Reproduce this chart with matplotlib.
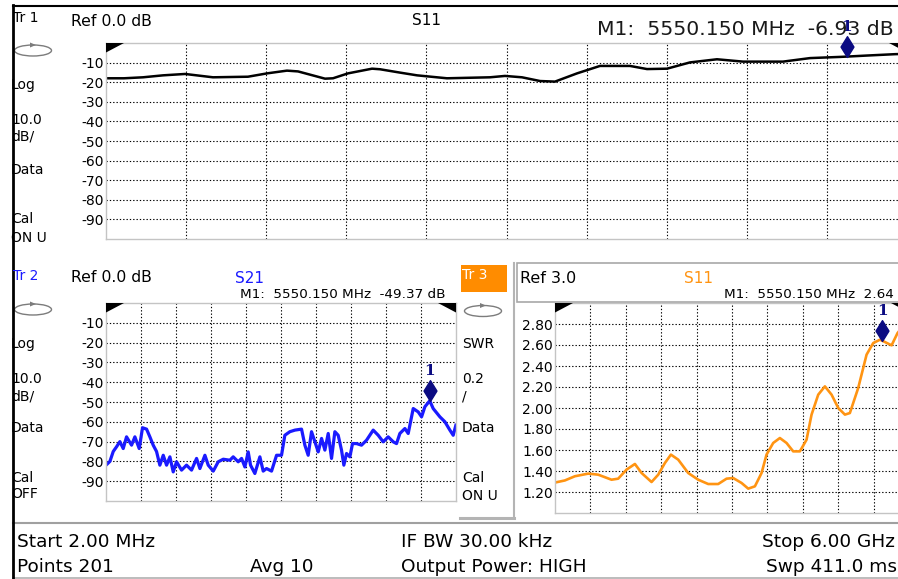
import numpy as np
import matplotlib
matplotlib.use("Agg")
import matplotlib.pyplot as plt
from matplotlib.patches import Ellipse, Rectangle, Polygon
from matplotlib.path import Path

plt.rcParams['font.family'] = ['DejaVu Sans']

W, H = 898, 579

# Sweep range (GHz)
f_start, f_stop = 0.002, 6.0

# Trace 1: S11, log magnitude (dB)
s11_freq = [0.002, 0.137, 0.279, 0.429, 0.594, 0.803, 1.065, 1.208, 1.357, 1.440,
            1.642, 1.702, 1.814, 1.994, 2.054, 2.203, 2.331, 2.555, 2.877, 2.990,
            3.117, 3.252, 3.364, 3.529, 3.701, 3.926, 4.053, 4.203, 4.375, 4.577,
            4.772, 5.071, 5.274, 5.498, 5.550, 5.700, 5.910, 6.000]
s11_db = [-18.0, -18.0, -17.5, -16.5, -15.8, -17.5, -17.2, -15.5, -14.1, -14.5,
          -18.2, -18.0, -15.5, -13.1, -13.4, -15.1, -16.5, -18.0, -17.5, -16.8,
          -17.5, -19.4, -19.7, -15.5, -11.7, -11.7, -13.3, -13.1, -9.9, -8.3,
          -9.5, -9.5, -7.7, -7.1, -6.93, -6.4, -5.7, -5.5]

# Trace 2: S21, log magnitude (dB)
s21_freq = [0.002, 0.069, 0.126, 0.183, 0.240, 0.297, 0.354, 0.440, 0.497, 0.571,
            0.628, 0.697, 0.754, 0.811, 0.868, 0.925, 0.983, 1.040, 1.097, 1.154,
            1.211, 1.297, 1.382, 1.468, 1.554, 1.611, 1.697, 1.754, 1.840, 1.925,
            2.011, 2.125, 2.182, 2.268, 2.325, 2.382, 2.439, 2.479, 2.553, 2.639,
            2.696, 2.753, 2.839, 2.925, 3.010, 3.067, 3.153, 3.239, 3.353, 3.410,
            3.467, 3.524, 3.582, 3.639, 3.696, 3.753, 3.810, 3.867, 3.924, 3.981,
            4.038, 4.078, 4.124, 4.181, 4.227, 4.295, 4.381, 4.467, 4.581, 4.667,
            4.752, 4.838, 4.924, 4.981, 5.038, 5.124, 5.181, 5.267, 5.352, 5.410,
            5.467, 5.550, 5.609, 5.724, 5.810, 5.895, 5.952, 5.998]
s21_db = [-81.9, -80.0, -75.0, -72.6, -70.0, -73.5, -67.6, -71.8, -67.6, -73.5,
          -63.0, -63.7, -67.6, -71.8, -75.0, -81.9, -76.9, -81.9, -77.7, -85.3,
          -80.2, -84.4, -81.9, -84.4, -78.5, -83.6, -76.9, -81.9, -84.9, -80.2,
          -78.9, -79.4, -77.7, -80.2, -78.5, -82.8, -75.2, -81.9, -86.1, -77.7,
          -84.9, -83.6, -84.9, -76.9, -76.9, -66.8, -65.0, -64.2, -63.7, -71.8,
          -76.9, -65.0, -70.1, -75.2, -68.4, -74.3, -65.9, -78.5, -65.0, -66.8,
          -74.3, -81.9, -76.0, -77.7, -71.0, -71.0, -71.8, -69.3, -64.2, -66.8,
          -70.1, -67.6, -70.1, -71.0, -65.9, -63.4, -65.9, -53.3, -55.0, -57.5,
          -52.4, -49.37, -53.3, -57.5, -60.0, -64.2, -66.8, -61.7]

# Trace 3: S11, SWR
swr_freq = [0.002, 0.169, 0.339, 0.565, 0.734, 0.960, 1.073, 1.214, 1.356, 1.469,
            1.638, 1.751, 1.864, 1.966, 2.090, 2.259, 2.429, 2.598, 2.767, 2.909,
            3.021, 3.163, 3.276, 3.389, 3.502, 3.586, 3.699, 3.812, 3.925, 4.038,
            4.151, 4.264, 4.349, 4.462, 4.575, 4.688, 4.801, 4.914, 4.998, 5.139,
            5.281, 5.394, 5.507, 5.550, 5.705, 5.806, 6.000]
swr_val = [1.29, 1.31, 1.35, 1.375, 1.365, 1.317, 1.327, 1.413, 1.467, 1.381,
           1.295, 1.365, 1.476, 1.556, 1.508, 1.381, 1.317, 1.276, 1.276, 1.327,
           1.333, 1.286, 1.232, 1.254, 1.381, 1.556, 1.667, 1.714, 1.667, 1.587,
           1.587, 1.698, 1.937, 2.127, 2.206, 2.127, 2.000, 1.937, 1.952, 2.190,
           2.508, 2.619, 2.650, 2.64, 2.597, 2.714, 2.85]

# Marker M1
m1_freq = 5.55015
m1_s11_db = -6.93
m1_s21_db = -49.37
m1_swr = 2.64

db_ticks = [-10, -20, -30, -40, -50, -60, -70, -80, -90]
swr_ticks = [2.80, 2.60, 2.40, 2.20, 2.00, 1.80, 1.60, 1.40, 1.20]

fig = plt.figure(figsize=(W / 100, H / 100), dpi=100)
fig.patch.set_facecolor('white')


def px_axes(left, top, right, bottom):
    return fig.add_axes([left / W, 1 - bottom / H, (right - left) / W, (bottom - top) / H])


def setup(ax, ylim, ticks, labels):
    ax.set_xlim(f_start, f_stop)
    ax.set_ylim(*ylim)
    ax.set_xticks(np.linspace(f_start, f_stop, 11)[1:-1])
    ax.set_xticklabels([])
    ax.set_yticks(ticks)
    ax.set_yticklabels(labels, fontsize=10)
    ax.tick_params(length=0, pad=1.5)
    ax.grid(True, color='black', linestyle=(0, (1.2, 1.8)), linewidth=0.8)
    ax.set_axisbelow(True)
    for s in ax.spines.values():
        s.set_color('#c4c4c4')
        s.set_linewidth(1.0)


# custom marker: diamond with its lower tip on the data point
diamond = Path([(0, 0), (0.62, 1), (0, 2), (-0.62, 1), (0, 0)],
               [Path.MOVETO, Path.LINETO, Path.LINETO, Path.LINETO, Path.CLOSEPOLY])
NAVY = '#0b0b82'


def mark(ax, y):
    ax.plot([m1_freq], [y], marker=diamond, markersize=30, color=NAVY,
            linestyle='none', clip_on=False, zorder=5)
    ax.annotate('1', xy=(m1_freq, y), xytext=(0, 16.5), textcoords='offset points',
                ha='center', va='bottom', fontsize=11, color=NAVY,
                family='DejaVu Serif', fontweight='bold', annotation_clip=False, zorder=6)


# Trace 1 window
ax1 = px_axes(106, 43, 907, 239)
setup(ax1, (-100, 0), db_ticks, [str(v) for v in db_ticks])
ax1.plot(s11_freq, s11_db, color='black', lw=1.8)
mark(ax1, m1_s11_db)

# Trace 2 window
ax2 = px_axes(106, 303, 456, 501)
setup(ax2, (-100, 0), db_ticks, [str(v) for v in db_ticks])
ax2.plot(s21_freq, s21_db, color='#1a1aff', lw=2.3)
mark(ax2, m1_s21_db)

# Trace 3 window
ax3 = px_axes(555, 303, 909, 513)
setup(ax3, (1.0, 3.0), swr_ticks, ['%.2f' % v for v in swr_ticks])
ax3.plot(swr_freq, swr_val, color='#ff9412', lw=1.9)
mark(ax3, m1_swr)

# Overlay in pixel coordinates for annotations and frame decoration
ov = fig.add_axes([0, 0, 1, 1])
ov.set_xlim(0, W)
ov.set_ylim(H, 0)
ov.axis('off')
ov.patch.set_alpha(0)


def txt(x, y, s, size=10, color='black', ha='left', **kw):
    ov.text(x, y, s, fontsize=size, color=color, ha=ha, va='baseline', **kw)


# Tr3 active panel decoration
ov.add_patch(Rectangle((517, 263), 400, 39, facecolor='white', edgecolor='#a8a8a8', lw=1.2))
ov.add_patch(Rectangle((461, 265), 46, 27, facecolor='#ff8c00', edgecolor='none'))
ov.plot([514, 514], [263, 518], color='#b4b4b4', lw=1.5)
ov.plot([460, 514], [518, 518], color='#b4b4b4', lw=2.2)

# reference-level wedges
for (x0, y0, d) in [(106, 43, 1), (907, 43, -1), (106, 303, 1), (456, 303, -1),
                    (555, 303, 1), (909, 303, -1)]:
    ov.add_patch(Polygon([(x0, y0), (x0 + 18 * d, y0), (x0, y0 + 9.5)],
                         closed=True, facecolor='black', edgecolor='none'))

# sweep icons
for (cx, cy) in [(33, 50.5), (33, 309.5), (483, 311)]:
    ov.add_patch(Ellipse((cx, cy), 37, 11, fill=False, edgecolor='#7c7c7c', lw=1.0))
    ov.add_patch(Polygon([(cx - 3, cy - 8), (cx + 3, cy - 5.5), (cx - 3, cy - 3)],
                         closed=True, facecolor='#7c7c7c', edgecolor='none'))

# Trace 1 header
txt(13, 22, 'Tr 1', 10)
txt(71, 26, 'Ref 0.0 dB', 11.3)
txt(412, 25, 'S11', 11)
txt(597, 35, 'M1:  5550.150 MHz  -6.93 dB', 14.7, color='#1a1a1a')
for y, s in [(89, 'Log'), (124, '10.0'), (141, 'dB/'), (174, 'Data'), (223, 'Cal'), (242, 'ON U')]:
    txt(11, y, s, 10)

# Trace 2 header
txt(13, 280, 'Tr 2', 10, color='#1a1aff')
txt(71, 282, 'Ref 0.0 dB', 11.3)
txt(235, 283, 'S21', 11, color='#1a1aff')
txt(240, 298, 'M1:  5550.150 MHz  -49.37 dB', 9.7)
for y, s in [(348, 'Log'), (383, '10.0'), (400, 'dB/'), (432, 'Data'), (482, 'Cal'), (498, 'OFF')]:
    txt(11, y, s, 10)

# Trace 3 header
txt(462, 279, 'Tr 3', 10, color='white')
txt(520, 283, 'Ref 3.0', 11.5)
txt(684, 283, 'S11', 11, color='#ff9412')
txt(724, 298, 'M1:  5550.150 MHz  2.64', 9.7)
for y, s in [(348, 'SWR'), (383, '0.2'), (400, '/'), (432, 'Data'), (482, 'Cal'), (500, 'ON U')]:
    txt(462, y, s, 10)

# status bar
ov.plot([13, W], [522.5, 522.5], color='#a0a0a0', lw=1.5)
ov.plot([13, W], [578, 578], color='#b0b0b0', lw=1.2)
txt(17, 547, 'Start 2.00 MHz', 13.3)
txt(17, 572, 'Points 201', 13.3)
txt(250, 572, 'Avg 10', 13.3)
txt(401, 547, 'IF BW 30.00 kHz', 13.3)
txt(401, 572, 'Output Power: HIGH', 13.3)
txt(895, 547, 'Stop 6.00 GHz', 13.3, ha='right')
txt(897, 572, 'Swp 411.0 ms', 13.3, ha='right')

# outer frame lines
ov.plot([13, W], [5.5, 5.5], color='black', lw=1.5)
ov.plot([13, 13], [5, H], color='black', lw=2.0)

fig.savefig('out.png', dpi=100)
